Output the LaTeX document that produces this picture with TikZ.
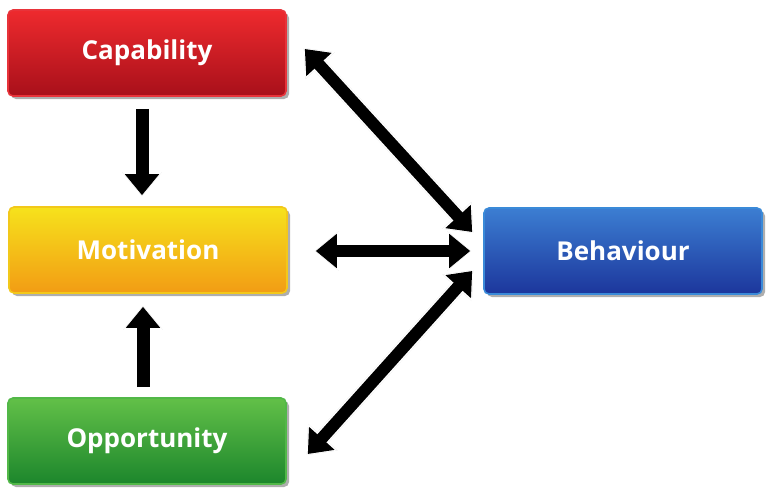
\documentclass[tikz,border=0pt]{standalone}
\usepackage{fontspec}
\setmainfont{Open Sans}
\usetikzlibrary{arrows.meta,shadows,calc}
\definecolor{redtop}{HTML}{EE2A2E}
\definecolor{redbot}{HTML}{A8101A}
\definecolor{redbd}{HTML}{E8333A}
\definecolor{yeltop}{HTML}{F6E21C}
\definecolor{yelbot}{HTML}{F29C14}
\definecolor{yelbd}{HTML}{F2C81A}
\definecolor{grntop}{HTML}{62C048}
\definecolor{grnbot}{HTML}{1C862C}
\definecolor{grnbd}{HTML}{52B848}
\definecolor{blutop}{HTML}{3C7ED2}
\definecolor{blubot}{HTML}{1C369C}
\definecolor{blubd}{HTML}{3A8AD8}
\tikzset{
  box/.style={rounded corners=5pt, minimum width=278pt, minimum height=86pt,
    line width=1.6pt, text=white, inner sep=0pt,
    font=\fontsize{26}{30}\selectfont\bfseries,
    drop shadow={shadow xshift=3pt, shadow yshift=-3pt, opacity=0.45, fill=black!70}},
  redbox/.style={box, draw=redbd, top color=redtop, bottom color=redbot},
  yelbox/.style={box, draw=yelbd, top color=yeltop, bottom color=yelbot},
  grnbox/.style={box, draw=grnbd, top color=grntop, bottom color=grnbot},
  blubox/.style={box, draw=blubd, top color=blutop, bottom color=blubot},
  tipA/.tip={Triangle[length=21pt,width=33pt]},
  tipW/.tip={Triangle[length=24pt,width=38pt]},
  arrshadow/.style={line width=15pt, draw=black!35, opacity=0.5},
  arrwhite/.style={line width=15pt, draw=white},
  arrblack/.style={line width=12pt, draw=black},
}
\begin{document}
\begin{tikzpicture}[x=1pt,y=-1pt]
\useasboundingbox (0,0) rectangle (774,501);
\fill[white] (0,0) rectangle (774,501);
\node[redbox] (cap) at (147,53) {Capability};
\node[yelbox] (mot) at (148,250) {Motivation};
\node[grnbox] (opp) at (147,441) {Opportunity};
\node[blubox] (beh) at (623,251) {Behaviour};
% shadows
\begin{scope}[shift={(2pt,-2pt)}]
\draw[arrshadow, -{tipW}] ($(cap.south)+(-5,12)$) -- ($(mot.north)+(-6,-10)$);
\draw[arrshadow, -{tipW}] ($(opp.north)+(-4,-10)$) -- ($(mot.south)+(-5,12)$);
\draw[arrshadow, {tipW}-{tipW}] ($(mot.east)+(27,1)$) -- ($(beh.west)+(-12,0)$);
\draw[arrshadow, {tipW}-{tipW}] ($(cap.east)+(17,-5)$) -- ($(beh.west)+(-10,-18)$);
\draw[arrshadow, {tipW}-{tipW}] ($(opp.east)+(20,14)$) -- ($(beh.west)+(-10,19)$);
\end{scope}
% white outlines
\draw[arrwhite, -{tipW}] ($(cap.south)+(-5,12)$) -- ($(mot.north)+(-6,-10)$);
\draw[arrwhite, -{tipW}] ($(opp.north)+(-4,-10)$) -- ($(mot.south)+(-5,12)$);
\draw[arrwhite, {tipW}-{tipW}] ($(mot.east)+(27,1)$) -- ($(beh.west)+(-12,0)$);
\draw[arrwhite, {tipW}-{tipW}] ($(cap.east)+(17,-5)$) -- ($(beh.west)+(-10,-18)$);
\draw[arrwhite, {tipW}-{tipW}] ($(opp.east)+(20,14)$) -- ($(beh.west)+(-10,19)$);
% black arrows
\draw[arrblack, -{tipA}, line width=13pt] ($(cap.south)+(-5,12)$) -- ($(mot.north)+(-6,-11)$);
\draw[arrblack, -{tipA}, line width=13pt] ($(opp.north)+(-4,-10)$) -- ($(mot.south)+(-5,13)$);
\draw[arrblack, {tipA}-{tipA}] ($(mot.east)+(28,1)$) -- ($(beh.west)+(-13,0)$);
\draw[arrblack, {tipA}-{tipA}] ($(cap.east)+(18,-4)$) -- ($(beh.west)+(-11,-19)$);
\draw[arrblack, {tipA}-{tipA}] ($(opp.east)+(21,13)$) -- ($(beh.west)+(-11,20)$);
\end{tikzpicture}
\end{document}
